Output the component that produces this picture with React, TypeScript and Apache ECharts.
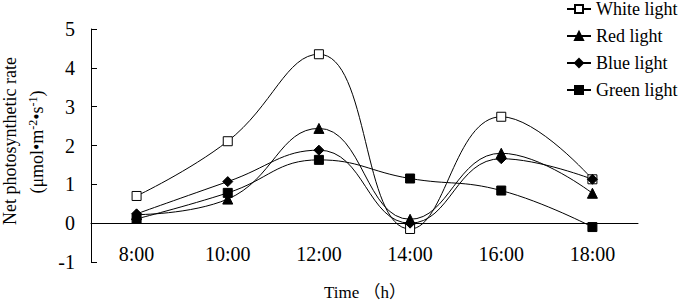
import React, { useEffect, useRef } from "react";
import * as echarts from "echarts";

const categories = ["8:00", "10:00", "12:00", "14:00", "16:00", "18:00"];
const whiteLight = [0.7, 2.11, 4.35, -0.15, 2.74, 1.13];
const redLight = [0.22, 0.62, 2.44, 0.1, 1.8, 0.77];
const blueLight = [0.24, 1.07, 1.88, 0.0, 1.66, 1.13];
const greenLight = [0.11, 0.78, 1.63, 1.15, 0.84, -0.1];
const seriesNames = ["White light", "Red light", "Blue light", "Green light"];
const xAxisTitle = "Time （h）";

const FONT = "Liberation Serif";
const tickRich = { s: { fontFamily: FONT, fontSize: 20, color: "#000" } };
const legendRich = { s: { fontFamily: FONT, fontSize: 18, color: "#000" } };

export default function App() {
  const ref = useRef<HTMLDivElement>(null);
  useEffect(() => {
    if (!ref.current) return;
    const chart = echarts.init(ref.current, null, { renderer: "svg" });
    const mk = (name: string, data: number[], symbol: string, size: number, fill: string) => ({
      name,
      type: "line",
      data,
      smooth: 0.45,
      symbol,
      symbolSize: size,
      showAllSymbol: true,
      lineStyle: { color: "#000", width: 1 },
      itemStyle: { color: fill, borderColor: "#000", borderWidth: 1 },
      emphasis: { disabled: true },
    });
    chart.setOption({
      animation: false,
      backgroundColor: "#fff",
      textStyle: { fontFamily: FONT },
      grid: { left: 91, right: 44, top: 29, bottom: 42, outerBoundsMode: "none", containLabel: false },
      legend: {
        orient: "vertical",
        left: 566,
        top: 0,
        padding: 0,
        itemWidth: 24,
        itemHeight: 10,
        itemGap: 9,
        formatter: (n: string) => `{s|${n}}`,
        textStyle: { fontFamily: FONT, fontSize: 18, color: "#000", lineHeight: 18, rich: legendRich },
        data: seriesNames,
      },
      xAxis: {
        type: "category",
        data: categories,
        boundaryGap: true,
        axisLine: { onZero: true, lineStyle: { color: "#000", width: 1 } },
        axisTick: { inside: true, length: 6, lineStyle: { color: "#000" } },
        axisLabel: {
          color: "#000",
          fontSize: 20,
          fontFamily: FONT,
          margin: -18,
          interval: 0,
          hideOverlap: false,
          formatter: (v: string) => `{s|${v}}`,
          rich: tickRich,
        },
      },
      yAxis: {
        type: "value",
        min: -1,
        max: 5,
        interval: 1,
        splitLine: { show: false },
        axisLine: { show: true, lineStyle: { color: "#000", width: 1 } },
        axisTick: { show: true, inside: true, length: 6, lineStyle: { color: "#000" } },
        axisLabel: {
          color: "#000",
          fontSize: 20,
          fontFamily: FONT,
          margin: 16,
          formatter: (v: number) => `{s|${v}}`,
          rich: tickRich,
        },
      },
      graphic: [
        {
          type: "text",
          x: 10,
          y: 141,
          rotation: Math.PI / 2,
          style: {
            text: "Net photosynthetic rate",
            fill: "#000",
            font: `18px ${FONT}`,
            align: "center",
            verticalAlign: "middle",
          },
        },
        {
          type: "text",
          x: 37,
          y: 142,
          rotation: Math.PI / 2,
          style: {
            text: "(μmol•m{sup|-2}•s{sup|-1})",
            fill: "#000",
            font: `18px ${FONT}`,
            align: "center",
            verticalAlign: "middle",
            rich: {
              sup: { fontSize: 12, fontFamily: FONT, fill: "#000", verticalAlign: "top", padding: [0, 0, 8, 0] },
            },
          },
        },
        {
          type: "text",
          x: 365,
          y: 292,
          style: {
            text: xAxisTitle,
            fill: "#000",
            font: `17px ${FONT}, Noto Sans CJK SC`,
            align: "center",
            verticalAlign: "middle",
          },
        },
      ],
      series: [
        mk(seriesNames[0], whiteLight, "rect", 9, "#fff"),
        mk(seriesNames[1], redLight, "triangle", 10, "#000"),
        mk(seriesNames[2], blueLight, "diamond", 10, "#000"),
        mk(seriesNames[3], greenLight, "rect", 9, "#000"),
      ],
    });
    return () => chart.dispose();
  }, []);
  return <div ref={ref} style={{ width: 682, height: 304, position: "absolute", left: 0, top: 0 }} />;
}
